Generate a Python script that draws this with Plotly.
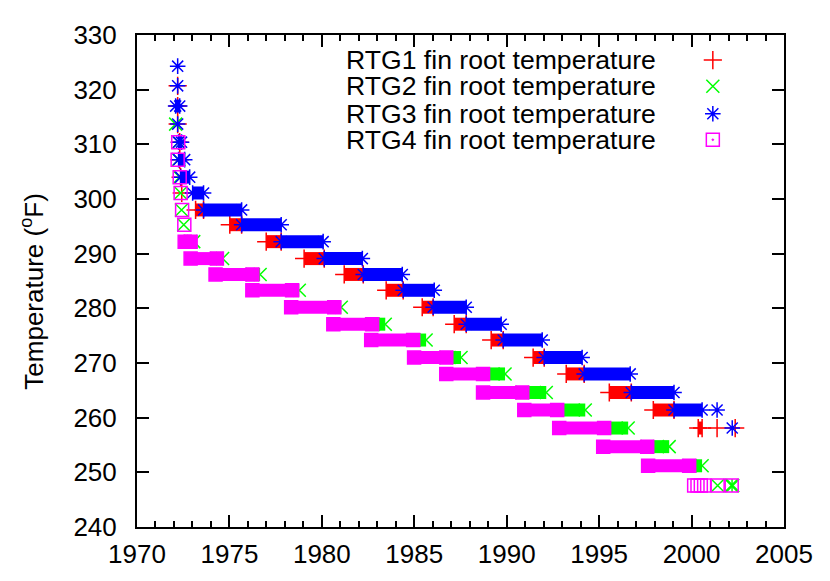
import plotly.graph_objects as go

# fin root temperature (F) of each run, first and last year of the run
# RTG1
rtg1_temp = [320.7, 317.0, 313.7, 310.4, 307.2, 304.0, 301.1, 298.0, 295.3, 292.2, 289.1, 286.2,
             283.3, 280.2, 277.1, 274.2, 271.0, 268.0, 264.6, 261.4, 258.1, 258.1, 258.1]
rtg1_start = [1972.20, 1972.20, 1972.20, 1972.31, 1972.31, 1972.36, 1972.42, 1973.17, 1975.02, 1976.99,
              1979.04, 1981.21, 1983.48, 1985.43, 1987.16, 1989.16, 1991.43, 1993.22, 1995.55, 1997.93,
              2000.36, 2001.38, 2002.36]
rtg1_end = [1972.20, 1972.20, 1972.20, 1972.31, 1972.31, 1972.36, 1972.42, 1973.60, 1975.66, 1977.80,
            1980.13, 1982.24, 1984.40, 1986.02, 1987.81, 1989.81, 1992.03, 1994.19, 1996.74, 1999.05,
            2000.57, 2001.38, 2002.36]

# RTG2
rtg2_temp = [313.7, 310.4, 307.2, 304.0, 301.1, 298.0, 295.3, 292.2, 289.1, 286.2, 283.3, 280.2,
             277.1, 274.2, 271.0, 268.0, 264.6, 261.4, 258.1, 254.7, 251.2, 247.6, 247.6]
rtg2_start = [1972.09, 1972.25, 1972.25, 1972.31, 1972.36, 1972.41, 1972.53, 1972.90, 1974.32, 1976.24,
              1978.39, 1980.67, 1982.72, 1984.94, 1986.73, 1988.72, 1990.84, 1992.73, 1995.27, 1997.60,
              1999.87, 2001.41, 2002.15]
rtg2_end = [1972.09, 1972.25, 1972.25, 1972.31, 1972.36, 1972.41, 1972.53, 1973.07, 1974.63, 1976.66,
            1978.78, 1981.05, 1983.43, 1985.64, 1987.53, 1989.91, 1992.14, 1994.25, 1996.57, 1998.79,
            2000.57, 2001.41, 2002.23]

# RTG3
rtg3_temp = [324.3, 320.7, 317.0, 313.7, 310.4, 307.2, 304.0, 301.1, 298.0, 295.3, 292.2, 289.1,
             286.2, 283.3, 280.2, 277.1, 274.2, 271.0, 268.0, 264.6, 261.4, 261.4, 258.1]
rtg3_start = [1972.20, 1972.20, 1972.09, 1972.20, 1972.25, 1972.25, 1972.36, 1973.01, 1973.60, 1975.66,
              1977.80, 1980.13, 1982.24, 1984.40, 1986.02, 1987.81, 1989.81, 1992.03, 1994.19, 1996.74,
              1999.05, 2001.38, 2002.20]
rtg3_end = [1972.20, 1972.20, 1972.31, 1972.20, 1972.41, 1972.58, 1972.85, 1973.60, 1975.66, 1977.80,
            1980.07, 1982.19, 1984.35, 1986.08, 1987.81, 1989.70, 1991.92, 1994.08, 1996.68, 1999.05,
            2000.57, 2001.38, 2002.20]

# RTG4
rtg4_temp = [310.4, 307.2, 304.0, 301.1, 298.0, 295.3, 292.2, 289.1, 286.2, 283.3, 280.2, 277.1,
             274.2, 271.0, 268.0, 264.6, 261.4, 258.1, 254.7, 251.2, 247.6, 247.6, 247.6, 247.6,
             247.6, 247.6]
rtg4_start = [1972.23, 1972.20, 1972.31, 1972.36, 1972.44, 1972.56, 1972.58, 1972.90, 1974.25, 1976.24,
              1978.34, 1980.62, 1982.67, 1984.99, 1986.73, 1988.72, 1990.95, 1992.84, 1995.22, 1997.65,
              2000.14, 2000.32, 2000.50, 2000.68, 2001.41, 2002.17]
rtg4_end = [1972.23, 1972.20, 1972.31, 1972.36, 1972.44, 1972.56, 1972.90, 1974.32, 1976.24, 1978.39,
            1980.67, 1982.72, 1984.94, 1986.73, 1988.72, 1990.84, 1992.73, 1995.27, 1997.60, 1999.87,
            2000.14, 2000.32, 2000.50, 2000.68, 2001.41, 2002.17]

labels = ["RTG1 fin root temperature", "RTG2 fin root temperature",
          "RTG3 fin root temperature", "RTG4 fin root temperature"]
colors = ["#ff0000", "#00ff00", "#0000ff", "#ff00ff"]
single_symbols = ["cross-thin-open", "x-thin-open", "asterisk-open", "square-open"]
run_symbols = ["cross-thin-open", "x-thin-open", "asterisk-open", "square"]
legend_symbols = ["cross-thin-open", "x-thin-open", "asterisk-open", "square-open-dot"]

series = [
    (rtg1_temp, rtg1_start, rtg1_end),
    (rtg2_temp, rtg2_start, rtg2_end),
    (rtg3_temp, rtg3_start, rtg3_end),
    (rtg4_temp, rtg4_start, rtg4_end),
]

FONT = "Liberation Sans, Arial, Helvetica, sans-serif"

fig = go.Figure()

for (temp, start, end), col, ssym, rsym in zip(series, colors, single_symbols, run_symbols):
    # dense readings drawn as a solid band between first and last reading
    lx, ly = [], []
    mx, my, msym = [], [], []
    for t, a, b in zip(temp, start, end):
        if b > a:
            lx += [a, b, None]
            ly += [t, t, None]
            mx += [a, b]
            my += [t, t]
            msym += [rsym, rsym]
        else:
            mx.append(a)
            my.append(t)
            msym.append(ssym)
    fig.add_trace(go.Scatter(x=lx, y=ly, mode="lines", line=dict(color=col, width=13),
                             showlegend=False, hoverinfo="skip"))
    fig.add_trace(go.Scatter(x=mx, y=my, mode="markers", showlegend=False,
                             marker=dict(symbol=msym, size=13, color=col,
                                         line=dict(color=col, width=1.5))))

# gnuplot style key: text right aligned, sample to the right
key_y = [0.949, 0.896, 0.840, 0.787]
for lab, col, sym, ky in zip(labels, colors, legend_symbols, key_y):
    fig.add_trace(go.Scatter(x=[0.890], y=[ky], xaxis="x2", yaxis="y2", mode="markers",
                             showlegend=False, hoverinfo="skip",
                             marker=dict(symbol=sym, size=13, color=col,
                                         line=dict(color=col, width=1.5))))
    fig.add_annotation(text=lab, xref="paper", yref="paper", x=0.805, y=ky,
                       xanchor="right", yanchor="middle", showarrow=False,
                       font=dict(family=FONT, size=26.6, color="black"))

fig.add_annotation(text="Temperature (<sup>o</sup>F)", xref="paper", yref="paper",
                   x=-0.161, y=0.48, textangle=-90, showarrow=False,
                   xanchor="center", yanchor="middle",
                   font=dict(family=FONT, size=26, color="black"))

axis_common = dict(
    showgrid=False, zeroline=False, showline=True, linecolor="black", linewidth=2,
    mirror="ticks", ticks="inside", ticklen=12, tickwidth=1.5, tickcolor="black",
    tickfont=dict(family=FONT, size=26, color="black"),
)

# page body adds an 8px offset, so the figure is drawn 8px smaller
fig.update_layout(
    width=822, height=573,
    margin=dict(l=129, r=46, t=24, b=54),
    paper_bgcolor="white", plot_bgcolor="white",
    font=dict(family=FONT, size=26, color="black"),
    showlegend=False,
    xaxis=dict(range=[1970, 2005], tick0=1970, dtick=5, ticklabelstandoff=3,
               minor=dict(dtick=1, ticks="inside", ticklen=6, tickwidth=1.5, tickcolor="black"),
               **axis_common),
    yaxis=dict(range=[240, 330], tick0=240, dtick=10, ticklabelstandoff=13, **axis_common),
    xaxis2=dict(range=[0, 1], overlaying="x", visible=False),
    yaxis2=dict(range=[0, 1], overlaying="y", visible=False),
)

fig.write_html("out.html")
